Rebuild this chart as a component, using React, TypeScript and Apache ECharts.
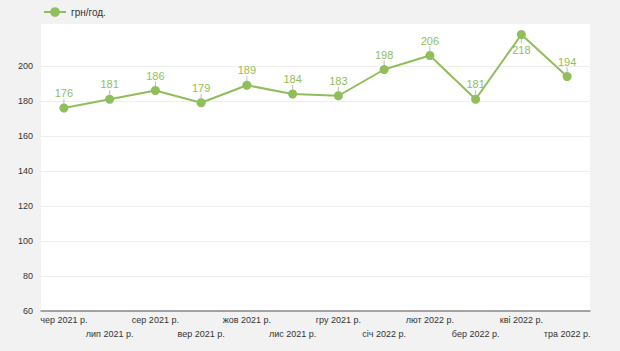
import React, { useEffect, useRef } from "react";
import * as echarts from "echarts";

const categories = [
  "чер 2021 р.", "лип 2021 р.", "сер 2021 р.", "вер 2021 р.", "жов 2021 р.", "лис 2021 р.",
  "гру 2021 р.", "січ 2022 р.", "лют 2022 р.", "бер 2022 р.", "кві 2022 р.", "тра 2022 р.",
];
const values = [176, 181, 186, 179, 189, 184, 183, 198, 206, 181, 218, 194];
const labelBelow = [false, false, false, false, false, false, false, false, false, false, true, false];
const seriesName = "грн/год.";

const GREEN = "#8fbe5a";
const FONT = "'Liberation Sans', Arial, sans-serif";

export default function App() {
  const ref = useRef<HTMLDivElement>(null);
  useEffect(() => {
    if (!ref.current) return;
    const chart = echarts.init(ref.current, null, { renderer: "svg" });
    const lineData = values.map((v, i) => ({
      value: v,
      label: { position: labelBelow[i] ? "bottom" : "top" },
    }));
    const tickData = values.map((v, i) => ({
      value: v,
      symbolOffset: [0, labelBelow[i] ? 6.5 : -6.5],
    }));
    chart.setOption({
      animation: false,
      backgroundColor: "#f2f2f2",
      textStyle: { fontFamily: FONT },
      legend: {
        show: true,
        left: 38,
        top: 2,
        itemWidth: 22,
        itemHeight: 12,
        itemGap: 4,
        data: [seriesName],
        textStyle: { fontSize: 10, color: "#333", fontFamily: FONT },
      },
      grid: {
        show: true,
        left: 41,
        right: 30,
        top: 24,
        bottom: 40,
        backgroundColor: "#ffffff",
        borderWidth: 0,
      },
      xAxis: {
        type: "category",
        data: categories,
        boundaryGap: true,
        axisLine: { lineStyle: { color: "#888", width: 1.5 } },
        axisTick: { show: false },
        axisLabel: {
          interval: 0,
          fontSize: 9,
          fontFamily: FONT,
          color: "#333",
          margin: 2,
          lineHeight: 14,
          formatter: (val: string, idx: number) => (idx % 2 === 1 ? "\n" + val : val),
        },
      },
      yAxis: {
        type: "value",
        min: 60,
        max: 224,
        interval: 20,
        axisLine: { show: false },
        axisTick: { show: false },
        axisLabel: {
          fontSize: 9,
          fontFamily: FONT,
          color: "#333",
          margin: 8,
          formatter: (v: number) => (v > 200 ? "" : String(v)),
        },
        splitLine: {
          lineStyle: {
            color: ["#eeeeee", "#eeeeee", "#eeeeee", "#eeeeee", "#eeeeee", "#eeeeee", "#eeeeee", "#eeeeee", "rgba(0,0,0,0)", "rgba(0,0,0,0)"],
            width: 1,
          },
        },
      },
      series: [
        {
          name: seriesName,
          type: "line",
          data: lineData,
          symbol: "circle",
          symbolSize: 9,
          itemStyle: { color: GREEN },
          lineStyle: { color: GREEN, width: 2 },
          label: {
            show: true,
            fontSize: 11,
            fontFamily: FONT,
            color: GREEN,
            distance: 5,
          },
          z: 3,
        },
        {
          type: "scatter",
          data: tickData,
          symbol: "rect",
          symbolSize: [1, 5],
          itemStyle: { color: "#aaaaaa" },
          silent: true,
          z: 2,
        },
      ],
    });
    return () => chart.dispose();
  }, []);
  return (
    <div
      ref={ref}
      style={{ position: "fixed", left: 0, top: 0, width: 620, height: 351 }}
    />
  );
}
